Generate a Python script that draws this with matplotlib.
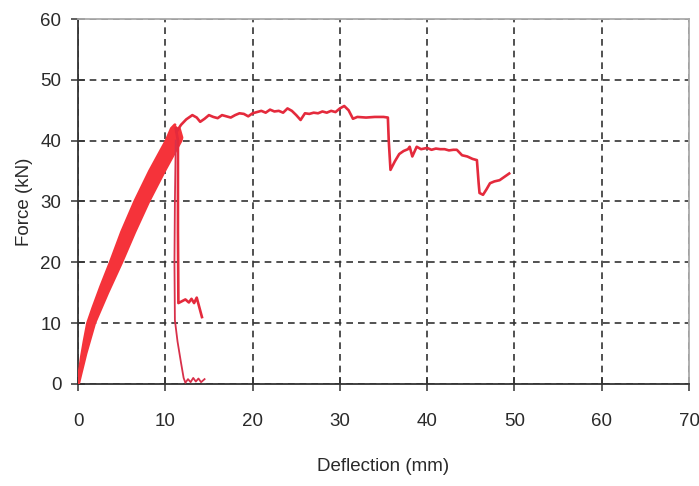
import matplotlib
matplotlib.use("Agg")
import matplotlib.pyplot as plt

# Cyclic loading envelope (upper-left loading edge, lower-right unloading edge)
load_x = [0, 0.15, 0.4, 0.7, 1.1, 1.7, 2.6, 3.7, 5.0, 6.5, 8.2, 10.1, 10.7, 11.1]
load_y = [0, 2.0, 4.5, 7.0, 10.0, 12.5, 16.0, 20.0, 25.0, 30.0, 35.0, 40.0, 42.0, 42.6]
unload_x = [11.6, 11.9, 11.8, 9.9, 8.1, 6.5, 5.0, 3.4, 1.9, 0.9, 0.3, 0.05]
unload_y = [42.0, 40.5, 40.0, 35.0, 30.0, 25.0, 20.0, 15.0, 10.0, 5.0, 1.5, 0]

# Post-peak response of the specimen that kept carrying load
main_x = [11.3, 11.8, 12.4, 13.1, 13.6, 14.0, 14.5, 15.0, 15.5, 16.0, 16.5, 17.0,
          17.5, 18.0, 18.5, 19.0, 19.5, 20.0, 20.5, 21.0, 21.5, 22.0, 22.5, 23.0,
          23.5, 24.0, 24.5, 25.0, 25.5, 26.0, 26.5, 27.0, 27.5, 28.0, 28.5, 29.0,
          29.5, 30.0, 30.5, 31.0, 31.5, 32.0, 33.0, 34.0, 35.0, 35.5, 35.6, 35.8,
          36.3, 36.8, 37.3, 37.8, 38.0, 38.3, 38.8, 39.3, 40.0, 40.5, 41.0, 41.5,
          42.0, 42.5, 43.0, 43.4, 44.0, 44.6, 45.2, 45.7, 45.9, 46.0, 46.4, 46.8,
          47.2, 47.7, 48.3, 48.8, 49.4]
main_y = [41.5, 42.6, 43.5, 44.2, 43.8, 43.1, 43.6, 44.2, 43.9, 43.7, 44.2, 44.0,
          43.8, 44.2, 44.5, 44.4, 44.0, 44.5, 44.7, 44.9, 44.6, 45.1, 44.8, 44.9,
          44.6, 45.3, 44.9, 44.2, 43.4, 44.5, 44.4, 44.6, 44.5, 44.8, 44.6, 44.9,
          44.7, 45.3, 45.7, 45.0, 43.6, 43.9, 43.8, 43.9, 43.9, 43.8, 40.0, 35.2,
          36.6, 37.8, 38.3, 38.6, 39.0, 37.4, 39.0, 38.6, 38.8, 38.5, 38.7, 38.6,
          38.6, 38.4, 38.5, 38.5, 37.6, 37.4, 37.0, 36.8, 33.0, 31.4, 31.1, 32.0,
          33.0, 33.3, 33.5, 34.0, 34.6]

# Specimen that failed suddenly and retained a small residual load
res_x = [11.2, 11.45, 11.45, 11.5, 11.9, 12.3, 12.7, 13.0, 13.3, 13.6, 13.9, 14.2]
res_y = [42.0, 40.0, 25.0, 13.3, 13.6, 13.9, 13.4, 14.0, 13.3, 14.2, 12.6, 11.0]

# Specimen that failed and unloaded completely
zero_x = [11.2, 11.1, 11.05, 11.1, 11.4, 11.8, 12.1, 12.3, 12.6, 12.9, 13.2, 13.5,
          13.8, 14.1, 14.5]
zero_y = [40.0, 30.0, 20.0, 10.5, 7.0, 3.5, 1.0, 0.2, 0.8, 0.3, 1.0, 0.4, 0.9, 0.3, 0.8]

x_ticks = [0, 10, 20, 30, 40, 50, 60, 70]
y_ticks = [0, 10, 20, 30, 40, 50, 60]

plt.rcParams["font.family"] = ["Liberation Sans", "DejaVu Sans"]

fig = plt.figure(figsize=(6.99, 4.86), dpi=100)
ax = fig.add_axes([0.1116, 0.2099, 0.8741, 0.7510])

band_color = "#f5333a"
line_color = "#e42a3c"
text_color = "#2a2a2a"

ax.fill(load_x + unload_x, load_y + unload_y, color=band_color, lw=0, zorder=3)
ax.plot(load_x, load_y, color=band_color, lw=2.2, zorder=3, solid_capstyle="round")
ax.plot(unload_x, unload_y, color=band_color, lw=2.2, zorder=3, solid_capstyle="round")
ax.plot(main_x, main_y, color=line_color, lw=1.9, zorder=4)
ax.plot(res_x, res_y, color=line_color, lw=1.9, zorder=4)
ax.plot(zero_x, zero_y, color="#d8304a", lw=1.3, zorder=4)

ax.set_xlim(0, 70)
ax.set_ylim(0, 60)
ax.set_xticks(x_ticks)
ax.set_yticks(y_ticks)

ax.grid(True, color="#333333", linestyle=(0, (4, 3)), linewidth=1.2, zorder=1)
for s in ("left", "bottom"):
    ax.spines[s].set_color("#333333")
    ax.spines[s].set_linewidth(1.3)
for s in ("top", "right"):
    ax.spines[s].set_color("#aaaaaa")
    ax.spines[s].set_linewidth(1.3)

ax.tick_params(axis="both", direction="inout", length=10, width=1.1,
               color="#333333", labelsize=13.5, labelcolor=text_color)
ax.tick_params(axis="x", pad=16)
ax.tick_params(axis="y", pad=7)
ax.tick_params(top=False, right=False)

ax.set_xlabel("Deflection (mm)", fontsize=13.5, color=text_color, labelpad=20)
ax.set_ylabel("Force (kN)", fontsize=13.5, color=text_color, labelpad=5)

fig.savefig("out.png", dpi=100)
